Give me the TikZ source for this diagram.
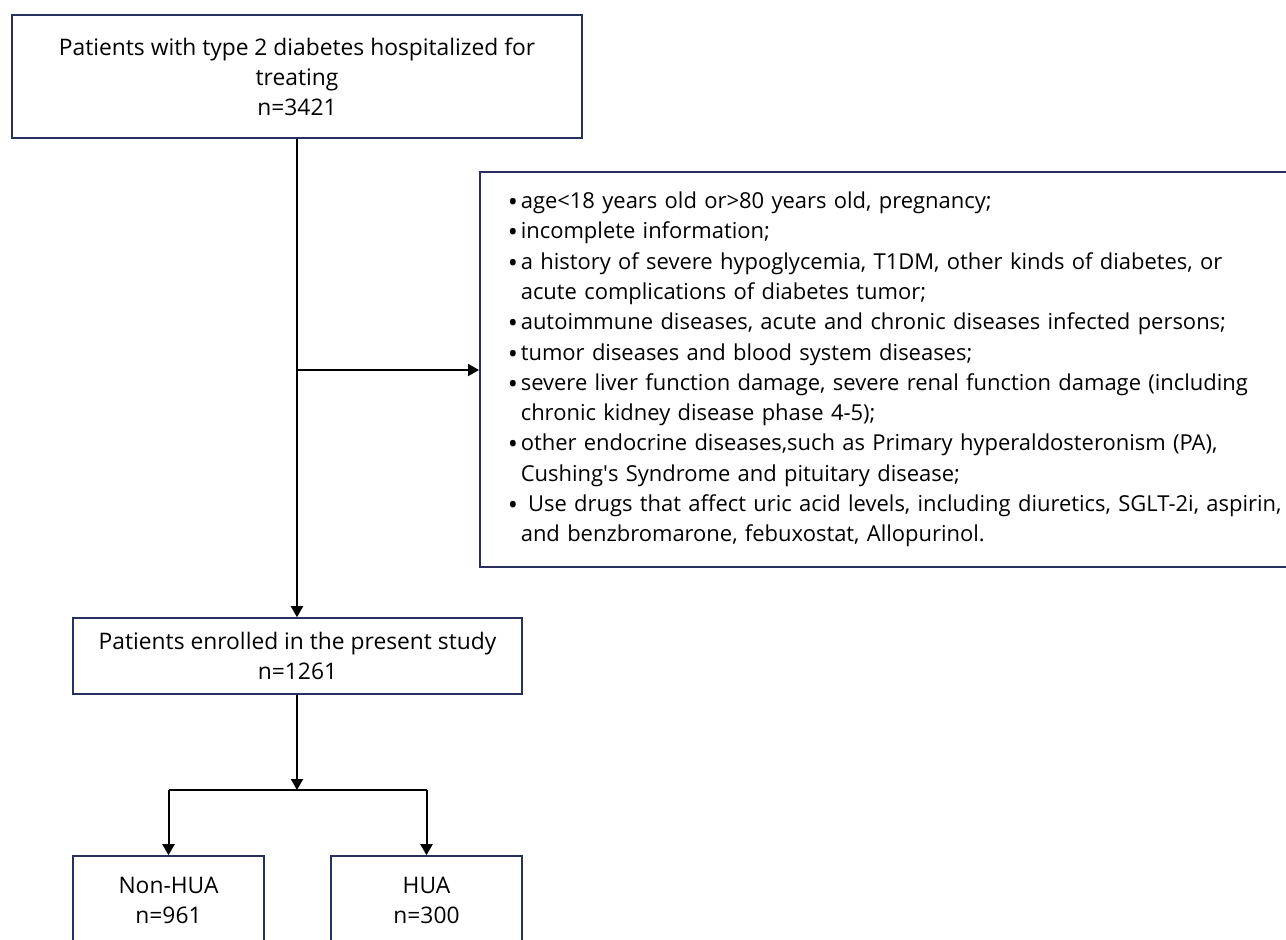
\documentclass[tikz,border=0pt]{standalone}
\usepackage{fontspec}
\setmainfont{Open Sans}
\usetikzlibrary{arrows.meta}
\definecolor{boxline}{HTML}{27305E}
\newcommand\exbul{\makebox[6.5pt][l]{\raisebox{-1.5pt}{\fontsize{13.5pt}{13.5pt}\selectfont\textbullet}}}
\newcommand\exind{\hspace*{6.5pt}}
\begin{document}
\begin{tikzpicture}[x=0.5pt,y=-0.5pt,
  box/.style={draw=boxline, line width=0.8pt, rectangle, align=center, inner sep=0pt,
    font=\fontsize{11.4pt}{15pt}\selectfont},
  conn/.style={line width=1pt, draw=black},
  arr/.style={conn, -{Triangle[length=5.5pt,width=6pt]}}]
\useasboundingbox (0,0) rectangle (1286,939);
\clip (0,0) rectangle (1286,939);
\fill[white] (0,0) rectangle (1286,939);

\node[box, minimum width=285pt, minimum height=61.5pt] (top) at (297,76.5)
  {Patients with type 2 diabetes hospitalized for\\treating\\n=3421};

\node[box, anchor=west, minimum height=197.5pt, text width=500pt, inner xsep=14pt,
  align=left, font=\fontsize{10.98pt}{15.15pt}\selectfont] (excl) at (479,369.5)
  {\exbul age<18 years old or>80 years old, pregnancy;\\
   \exbul incomplete information;\\
   \exbul a history of severe hypoglycemia, T1DM, other kinds of diabetes, or\\
   \exind acute complications of diabetes tumor;\\
   \exbul autoimmune diseases, acute and chronic diseases infected persons;\\
   \exbul tumor diseases and blood system diseases;\\
   \exbul severe liver function damage, severe renal function damage (including\\
   \exind chronic kidney disease phase 4-5);\\
   \exbul other endocrine diseases,such as Primary hyperaldosteronism (PA),\\
   \exind Cushing\textquotesingle s Syndrome and pituitary disease;\\
   \exbul\ Use drugs that affect uric acid levels, including diuretics, SGLT-2i, aspirin,\\
   \exind and benzbromarone, febuxostat, Allopurinol.};

\node[box, minimum width=224.5pt, minimum height=38pt] (enr) at (297.5,656)
  {Patients enrolled in the present study\\n=1261};

\node[box, minimum width=95.5pt, minimum height=44pt] (non) at (168.5,900)
  {Non-HUA\\n=961};
\node[box, minimum width=95.5pt, minimum height=44pt] (hua) at (426.5,900)
  {HUA\\n=300};

\coordinate (br) at (297,370);
\coordinate (split) at (297,790);

\draw[arr] (top.south) -- (top.south |- enr.north);
\draw[arr] (br) -- (excl.west |- br);
\draw[arr] (enr.south -| split) -- (split);
\draw[conn] (non.north |- split) -- (hua.north |- split);
\draw[arr] (non.north |- split) -- (non.north);
\draw[arr] (hua.north |- split) -- (hua.north);
\end{tikzpicture}
\end{document}
